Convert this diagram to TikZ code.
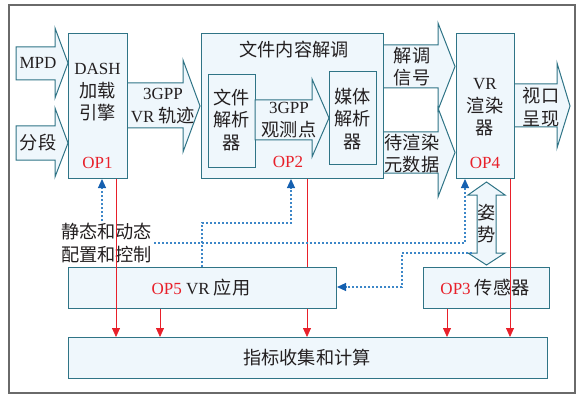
\documentclass[tikz,border=0pt]{standalone}
\usepackage{fontspec}
\setmainfont{Liberation Serif}
\newfontfamily\cjk[Scale=1.07]{Noto Sans CJK SC}
\usetikzlibrary{arrows.meta}
\definecolor{bd}{HTML}{2F7486}
\definecolor{fl}{HTML}{EFF7FC}
\definecolor{rd}{HTML}{E8202A}
\definecolor{bl}{HTML}{3D87C8}
\definecolor{bla}{HTML}{1560B0}
\definecolor{tx}{HTML}{231F20}
\definecolor{fr}{HTML}{6A6A6A}
\begin{document}
\begin{tikzpicture}[x=1pt,y=-1pt,
 box/.style={draw=bd,fill=fl,line width=1pt,inner sep=0pt},
 barrow/.style={draw=bd,fill=fl,line width=1pt,line join=miter},
 lbl/.style={text=tx,font=\fontsize{17}{22.5}\selectfont,align=center,inner sep=0pt},
 op/.style={text=rd,font=\fontsize{17}{22.5}\selectfont,inner sep=0pt},
 redarr/.style={draw=rd,line width=0.8pt,-{Triangle[length=9pt,width=8pt]}},
 redln/.style={draw=rd,line width=0.8pt},
 bluearr/.style={draw=bl,line width=1.1pt,dash pattern=on 2pt off 2pt,-{Triangle[length=9pt,width=8pt,fill=bla,color=bla,sep=0pt]}},
]
\useasboundingbox (0,0) rectangle (586,401);
\draw[fr,line width=1.2pt] (9,5) rectangle (575,393);

% block arrows
\draw[barrow] (16,47) -- (55,47) -- (55,28) -- (68,63) -- (55,98) -- (55,80) -- (16,80) -- cycle;
\draw[barrow] (16,126) -- (55,126) -- (55,108) -- (68,143) -- (55,177) -- (55,160) -- (16,160) -- cycle;
\draw[barrow] (127,83) -- (183,83) -- (183,60) -- (200,106) -- (183,152) -- (183,128) -- (127,128) -- cycle;
\draw[barrow] (383,45) -- (438,45) -- (438,23) -- (455,66.5) -- (438,110) -- (438,88) -- (383,88) -- cycle;
\draw[barrow] (383,132) -- (438,132) -- (438,108) -- (455,152.5) -- (438,197) -- (438,173) -- (383,173) -- cycle;
\draw[barrow] (514,84) -- (557,84) -- (557,63) -- (570,106) -- (557,148) -- (557,127) -- (514,127) -- cycle;

% boxes
\node[box,anchor=north west,minimum width=59pt,minimum height=145pt] (dash) at (68,33) {};
\node[box,anchor=north west,minimum width=182pt,minimum height=145pt] (demod) at (201,33) {};
\node[box,anchor=north west,minimum width=47pt,minimum height=93pt] (fparse) at (208,74) {};
\draw[barrow] (255,100) -- (312,100) -- (312,79) -- (329,118) -- (312,157) -- (312,140) -- (255,140) -- cycle;
\node[box,anchor=north west,minimum width=47pt,minimum height=93pt] (mparse) at (329,71) {};
\node[box,anchor=north west,minimum width=58pt,minimum height=145pt] (vr) at (456,33) {};
\node[box,anchor=north west,minimum width=268pt,minimum height=41pt] (app) at (68,267) {};
\node[box,anchor=north west,minimum width=126pt,minimum height=41pt] (sensor) at (423,267) {};
\node[box,anchor=north west,minimum width=479pt,minimum height=41pt] (metric) at (68,337) {};

% pose double arrow
\draw[barrow] (486.5,182) -- (505,195) -- (496,195) -- (496,253) -- (505,253) -- (486.5,265) -- (468,253) -- (477,253) -- (477,195) -- (468,195) -- cycle;

% labels
\node[lbl] (tmpd) at (38,63) {MPD};
\node[lbl] (tseg) at (38,143) {{\cjk 分段}};
\node[lbl] (tdash) at (97.5,92.5) {DASH\\{\cjk 加载}\\{\cjk 引擎}};
\node[op] (op1) at (97.5,163) {OP1};
\node[lbl] (ttrack) at (163,106) {3GPP\\VR {\cjk 轨迹}};
\node[lbl] (tdemod) at (294,50) {{\cjk 文件内容解调}};
\node[lbl] (tfp) at (231.5,120) {{\cjk 文件}\\{\cjk 解析}\\{\cjk 器}};
\node[lbl] (tobs) at (289,120) {3GPP\\{\cjk 观测点}};
\node[op] (op2) at (288,162) {OP2};
\node[lbl] (tmp) at (352.5,119) {{\cjk 媒体}\\{\cjk 解析}\\{\cjk 器}};
\node[lbl] (tsig) at (412,66.5) {{\cjk 解调}\\{\cjk 信号}};
\node[lbl] (tmeta) at (412,153.5) {{\cjk 待渲染}\\{\cjk 元数据}};
\node[lbl] (tvr) at (485,107.5) {VR\\{\cjk 渲染}\\{\cjk 器}};
\node[op] (op4) at (485,163) {OP4};
\node[lbl] (tview) at (541,107) {{\cjk 视口}\\{\cjk 呈现}};
\node[lbl] (tpose) at (486.5,223.5) {{\cjk 姿}\\{\cjk 势}};
\node[lbl] (tapp) at (201,288) {\textcolor{rd}{OP5} VR {\cjk 应用}};
\node[lbl] (tsen) at (485,288) {\textcolor{rd}{OP3} {\cjk 传感器}};
\node[lbl] (tmet) at (307,358) {{\cjk 指标收集和计算}};
\node[lbl,anchor=west] (ctrl) at (61,243) {{\cjk 静态和动态}\\{\cjk 配置和控制}};

% coordinates
\coordinate (xa) at (116,0);
\coordinate (xb) at (160,0);
\coordinate (xc) at (307,0);
\coordinate (xd) at (447,0);
\coordinate (xe) at (510,0);
\coordinate (b0) at (102,221);
\coordinate (b1) at (465,243);
\coordinate (c1) at (202,223);
\coordinate (c2) at (291,223);
\coordinate (d1) at (472,253);
\coordinate (d2) at (402,253);
\coordinate (d3) at (402,287);

% red connectors
\draw[redarr] (dash.south -| xa) -- (metric.north -| xa);
\draw[redarr] (app.south -| xb) -- (metric.north -| xb);
\draw[redln] (demod.south -| xc) -- (app.north -| xc);
\draw[redarr] (app.south -| xc) -- (metric.north -| xc);
\draw[redarr] (sensor.south -| xd) -- (metric.north -| xd);
\draw[redarr] (vr.south -| xe) -- (metric.north -| xe);

% blue dotted connectors
\draw[bluearr] (b0) -- (dash.south -| b0);
\draw[bluearr] ([xshift=2pt]ctrl.east |- b1) -- (b1) -- (vr.south -| b1);
\draw[bluearr] (app.north -| c1) -- (c1) -- (c2) -- (demod.south -| c2);
\draw[bluearr] (d1) -- (d2) -- (d3) -- (app.east |- d3);
\end{tikzpicture}
\end{document}
